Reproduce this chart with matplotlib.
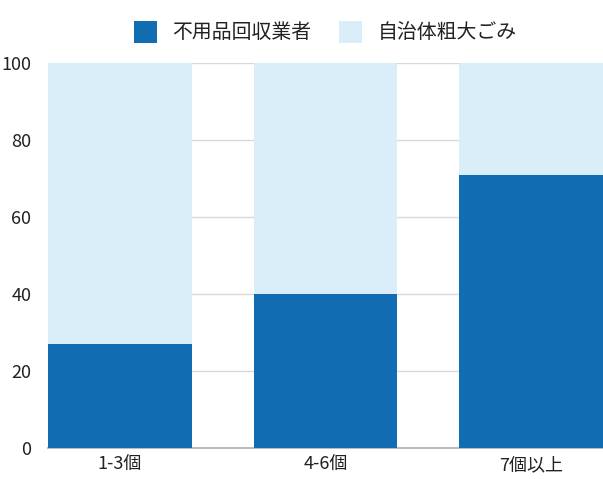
import numpy as np
import matplotlib.pyplot as plt

plt.rcParams['font.family'] = ['Noto Sans CJK JP', 'DejaVu Sans']

categories = ['1-3個', '4-6個', '7個以上']
gyosha = [27, 40, 71]      # 不用品回収業者
jichitai = [73, 60, 29]    # 自治体粗大ごみ
labels = ['不用品回収業者', '自治体粗大ごみ']
colors = ['#116cb1', '#daeef9']

fig = plt.figure(figsize=(6.03, 4.79), dpi=100)
ax = fig.add_axes([48 / 603, 31 / 479, 555 / 603, 385 / 479])

x = np.arange(len(categories))
ax.bar(x, gyosha, width=0.7, color=colors[0], label=labels[0], zorder=3)
ax.bar(x, jichitai, width=0.7, bottom=gyosha, color=colors[1], label=labels[1], zorder=3)

ax.set_xlim(-0.35, 2.35)
ax.set_ylim(0, 100)
ax.set_yticks([0, 20, 40, 60, 80, 100])
ax.set_xticks(x)
ax.set_xticklabels(categories)
ax.yaxis.grid(True, color='#d9d9d9', linewidth=1, zorder=0)
ax.tick_params(axis='both', length=0, labelsize=13, colors='#222222', pad=6)
ax.tick_params(axis='y', pad=12)
for s in ['top', 'right', 'left']:
    ax.spines[s].set_visible(False)
ax.spines['bottom'].set_color('#bbbbbb')
ax.spines['bottom'].set_linewidth(1.5)

ax.legend(loc='center', bbox_to_anchor=(0.5, 1.08),
          ncol=2, frameon=False, fontsize=14.3, handlelength=1.15, handleheight=1.3,
          columnspacing=1.4, handletextpad=0.8, labelcolor='#222222')

fig.savefig('out.png', dpi=100)
